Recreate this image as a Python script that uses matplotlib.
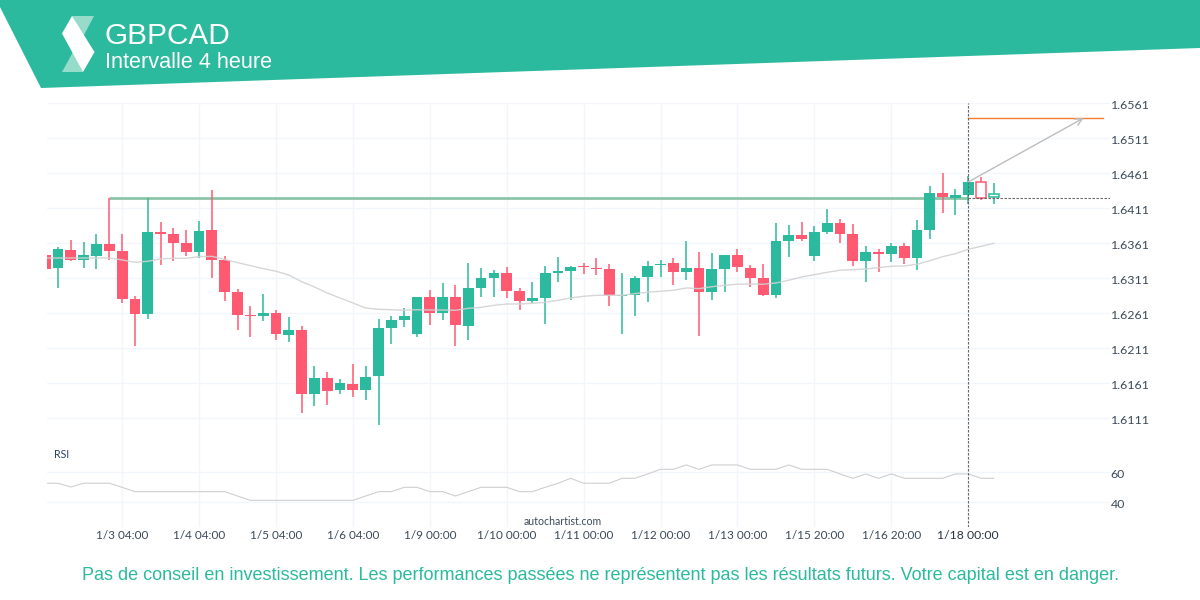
import matplotlib
matplotlib.use("Agg")
import matplotlib.pyplot as plt
from matplotlib.patches import Polygon
from matplotlib.transforms import Affine2D, ScaledTranslation

# ---- data ----
opens = [1.63443,1.63257,1.63515,1.63372,1.63429,1.63600,1.63500,1.62815,1.62600,1.63771,
         1.63743,1.63614,1.63486,1.63800,1.63372,1.62915,1.62586,1.62572,1.62615,1.62300,
         1.62372,1.61457,1.61686,1.61515,1.61600,1.61515,1.61715,1.62400,1.62515,1.62315,
         1.62843,1.62615,1.62843,1.62429,1.62972,1.63115,1.63186,1.62929,1.62786,1.62829,
         1.63186,1.63215,1.63286,1.63257,1.63243,1.62858,1.62872,1.63129,1.63300,1.63329,
         1.63200,1.63257,1.62915,1.63243,1.63443,1.63257,1.63115,1.62872,1.63643,1.63729,
         1.63429,1.63771,1.63900,1.63743,1.63358,1.63486,1.63457,1.63571,1.63400,1.63800,
         1.64329,1.64258,1.64301,1.64486,1.64272]
closes = [1.63243,1.63529,1.63372,1.63443,1.63600,1.63500,1.62815,1.62600,1.63771,1.63743,
          1.63614,1.63486,1.63786,1.63372,1.62915,1.62586,1.62572,1.62615,1.62315,1.62372,
          1.61457,1.61686,1.61500,1.61615,1.61515,1.61700,1.62400,1.62515,1.62572,1.62843,
          1.62615,1.62843,1.62443,1.62972,1.63115,1.63186,1.62929,1.62786,1.62829,1.63186,
          1.63215,1.63272,1.63272,1.63243,1.62872,1.62872,1.63115,1.63286,1.63315,1.63200,
          1.63257,1.62915,1.63243,1.63443,1.63272,1.63115,1.62872,1.63643,1.63729,1.63671,
          1.63771,1.63900,1.63743,1.63358,1.63486,1.63457,1.63571,1.63400,1.63800,1.64329,
          1.64272,1.64301,1.64486,1.64258,1.64315]
highs = [1.63443,1.63557,1.63657,1.63629,1.63743,1.64258,1.63743,1.62858,1.64258,1.63914,
         1.63829,1.63800,1.63929,1.64372,1.63429,1.62958,1.62714,1.62886,1.62657,1.62557,
         1.62429,1.61857,1.61771,1.61672,1.61886,1.61857,1.62529,1.62572,1.62686,1.62843,
         1.62943,1.63043,1.63015,1.63329,1.63257,1.63229,1.63272,1.62972,1.63057,1.63286,
         1.63414,1.63286,1.63329,1.63400,1.63315,1.63186,1.63143,1.63358,1.63372,1.63400,
         1.63643,1.63486,1.63472,1.63443,1.63529,1.63300,1.63315,1.63900,1.63871,1.63914,
         1.63857,1.64100,1.63957,1.63886,1.63571,1.63529,1.63614,1.63614,1.63943,1.64429,
         1.64614,1.64386,1.64571,1.64557,1.64472]
lows = [1.63243,1.62972,1.63358,1.63257,1.63243,1.63372,1.62757,1.62143,1.62529,1.63300,
        1.63358,1.63429,1.63400,1.63115,1.62786,1.62372,1.62272,1.62500,1.62229,1.62200,
        1.61186,1.61286,1.61300,1.61457,1.61415,1.61372,1.61015,1.62172,1.62415,1.62272,
        1.62443,1.62515,1.62143,1.62229,1.62843,1.62843,1.62829,1.62657,1.62757,1.62457,
        1.63057,1.62800,1.63172,1.63157,1.62714,1.62315,1.62572,1.62772,1.63129,1.63015,
        1.63086,1.62286,1.62800,1.62915,1.63200,1.62986,1.62858,1.62829,1.63414,1.63643,
        1.63358,1.63743,1.63614,1.63286,1.63057,1.63200,1.63343,1.63315,1.63229,1.63671,
        1.64043,1.64015,1.64172,1.64229,1.64172]
moving_avg = [1.63400,1.63400,1.63400,1.63400,1.63400,1.63400,1.63372,1.63339,1.63353,1.63386,
              1.63396,1.63396,1.63419,1.63424,1.63379,1.63334,1.63291,1.63248,1.63211,1.63157,
              1.63062,1.62986,1.62900,1.62829,1.62757,1.62686,1.62667,1.62661,1.62653,1.62661,
              1.62657,1.62657,1.62653,1.62681,1.62696,1.62724,1.62743,1.62743,1.62753,1.62767,
              1.62796,1.62829,1.62853,1.62867,1.62867,1.62867,1.62891,1.62911,1.62925,1.62939,
              1.62972,1.62962,1.62990,1.63010,1.63025,1.63029,1.63025,1.63043,1.63082,1.63129,
              1.63162,1.63196,1.63225,1.63233,1.63243,1.63262,1.63282,1.63286,1.63310,1.63362,
              1.63419,1.63462,1.63525,1.63567,1.63610]
rsi = [52.7,52.7,50.2,52.7,52.7,52.7,50,47.1,47.1,47.1,47.1,47.1,47.1,47.1,47.1,44.2,41.3,41.3,41.3,41.3,
       41.3,41.3,41.3,41.3,41.3,44.2,47.1,47.1,50,50,47.1,47.1,44.2,47.1,50,50,50,47.1,47.1,50,
       52.7,56,52.7,52.7,52.7,56,56,58.9,62,62,64.9,62,64.9,64.9,64.9,62,62,62,64.9,62,
       62,62,58.9,56,58.9,56,58.9,56,56,56,56,58.9,58.9,56,56]
hollow = [73, 74]
x_ticks = [6, 12, 18, 24, 30, 36, 42, 48, 54, 60, 66, 72]
x_labels = ["1/3 04:00","1/4 04:00","1/5 04:00","1/6 04:00","1/9 00:00","1/10 00:00",
            "1/11 00:00","1/12 00:00","1/13 00:00","1/15 20:00","1/16 20:00","1/18 00:00"]
price_ticks = [1.6561,1.6511,1.6461,1.6411,1.6361,1.6311,1.6261,1.6211,1.6161,1.6111]
rsi_ticks = [60, 40]
level = 1.64258
target = 1.65400
arrow_start = (72, 1.64486)
arrow_end = (81, 1.65400)
signal_idx = 72
level_start = 5

# ---- style ----
GREEN = "#2BBA9D"; RED = "#FF5A71"; TEAL = "#2CBA9E"; LIGHT = "#95DCCB"
TEXT = "#3B4A5A"; GRID = "#F2F5FA"
W, H = 1200, 600
X0, PX = 45.2, 12.82         # pixel of candle 0, pixels per candle
L, R = 47, 1110
T, M, B = 102.5, 440, 527
PY = 7000.0                  # pixels per price unit
TOP_Y = 103.3
RSI60_Y, RSI_PX = 472.3, 1.5
plt.rcParams["font.family"] = ["Lato", "DejaVu Sans"]

fig = plt.figure(figsize=(12, 6), dpi=100, facecolor="white")
label_shift = ScaledTranslation(0, -1 / 100, fig.dpi_scale_trans)


def rect(x0, y0, x1, y1):
    return [x0 / W, 1 - y1 / H, (x1 - x0) / W, (y1 - y0) / H]


# header
px_tr = Affine2D().scale(1, -1).translate(0, H)
fig.patches.append(Polygon([(0, 0), (1200, 0), (1200, 48), (41, 88), (0, 7)], closed=True,
                           facecolor=TEAL, edgecolor="none", transform=px_tr))
fig.patches.append(Polygon([(72, 16), (94, 16), (83, 37)], closed=True, facecolor=LIGHT,
                           edgecolor="none", transform=px_tr))
fig.patches.append(Polygon([(62, 72), (83, 72), (73, 52)], closed=True, facecolor=LIGHT,
                           edgecolor="none", transform=px_tr))
fig.patches.append(Polygon([(72, 16), (94.5, 52), (83, 72), (62, 33.5)], closed=True,
                           facecolor="white", edgecolor="none", transform=px_tr))
fig.text(105 / W, 1 - 36 / H, "GBPCAD", color="white", fontsize=21.4,
         family=["Liberation Sans"], va="center", ha="left")
fig.text(105 / W, 1 - 63 / H, "Intervalle 4 heure", color="white", fontsize=15.6,
         family=["Liberation Sans"], va="center", ha="left")

# main panel
ax = fig.add_axes(rect(L, T, R, M))
xlim = ((L - X0) / PX, (R - X0) / PX)
ax.set_xlim(*xlim)
top = price_ticks[0] + (TOP_Y - T) / PY
ax.set_ylim(top - (M - T) / PY, top)
for s in ax.spines.values():
    s.set_visible(False)
ax.patch.set_alpha(0)
ax.set_xticks(x_ticks)
ax.set_xticklabels([])
ax.set_yticks(price_ticks)
ax.set_yticklabels([f"{p:.4f}" for p in price_ticks])
ax.yaxis.tick_right()
ax.tick_params(axis="both", length=0, pad=0.5, labelsize=8.9, labelcolor=TEXT)
ax.grid(True, color=GRID, lw=1)
ax.set_axisbelow(True)
for lab in ax.get_yticklabels():
    lab.set_transform(lab.get_transform() + label_shift)

# level line, candles
ax.plot([level_start, signal_idx], [level, level], color="#8CC5A8", lw=2.0, zorder=2,
        solid_capstyle="butt")
for i, (o, c, h, l) in enumerate(zip(opens, closes, highs, lows)):
    col = GREEN if c >= o else RED
    ax.vlines(i, l, h, color=col, lw=1.1, zorder=3)
    is_hollow = i in hollow
    ax.bar(i, abs(c - o), bottom=min(o, c), width=0.84 if not is_hollow else 0.78,
           facecolor="white" if is_hollow else col,
           edgecolor=col, linewidth=1.1 if is_hollow else 0, zorder=4)
ax.plot(range(len(moving_avg)), moving_avg, color="#D2D2D2", lw=1.0, alpha=0.9, zorder=5)

# annotations
ax.plot([signal_idx, (1103 - X0) / PX], [target, target], color="#F27F30", lw=1.0, zorder=6)
ax.plot([signal_idx, xlim[1]], [level, level], color="#666666", lw=0.8, dashes=(2.2, 1.4), zorder=6)
ax.plot([signal_idx, signal_idx], list(ax.get_ylim()), color="#666666", lw=0.8,
        dashes=(2.2, 1.4), zorder=6)
ax.annotate("", xy=arrow_end, xytext=arrow_start, zorder=7,
            arrowprops=dict(arrowstyle="->,head_length=0.5,head_width=0.25", color="#BDBDBD", lw=1.0,
                            shrinkA=0, shrinkB=0))

# RSI panel
ax2 = fig.add_axes(rect(L, M, R, B))
ax2.set_xlim(*xlim)
ax2.set_ylim(60 - (B - RSI60_Y) / RSI_PX, 60 + (RSI60_Y - M) / RSI_PX)
for s in ax2.spines.values():
    s.set_visible(False)
ax2.patch.set_alpha(0)
ax2.set_xticks(x_ticks)
ax2.set_xticklabels(x_labels)
ax2.set_yticks(rsi_ticks)
ax2.set_yticklabels([str(v) for v in rsi_ticks])
ax2.yaxis.tick_right()
ax2.tick_params(axis="y", length=0, pad=0.5, labelsize=8.9, labelcolor=TEXT)
ax2.tick_params(axis="x", length=0, pad=2, labelsize=8.5, labelcolor=TEXT)
ax2.grid(True, color=GRID, lw=1)
ax2.set_axisbelow(True)
for lab in ax2.get_yticklabels():
    lab.set_transform(lab.get_transform() + label_shift)
active = ax2.get_xticklabels()[-1]
active.set_color("#2A3441")
active.set_fontsize(8.8)
ax2.plot(range(len(rsi)), rsi, color="#CFCFCF", lw=0.8, zorder=3)
ax2.plot([signal_idx, signal_idx], list(ax2.get_ylim()), color="#666666", lw=0.8,
         dashes=(2.2, 1.4), zorder=6)

# texts
fig.text(54 / W, 1 - 455 / H, "RSI", color="#2A3F5F", fontsize=7.6, va="center", ha="left")
fig.text(563 / W, 1 - 521.5 / H, "autochartist.com", color="#3B4A5A", fontsize=7.6, va="center", ha="center")
fig.text(600 / W, 1 - 575 / H,
         "Pas de conseil en investissement. Les performances passées ne représentent pas les résultats futurs. Votre capital est en danger.",
         color=GREEN, fontsize=12.95, va="center", ha="center", family=["Liberation Sans"])

fig.savefig("out.png", dpi=100)
